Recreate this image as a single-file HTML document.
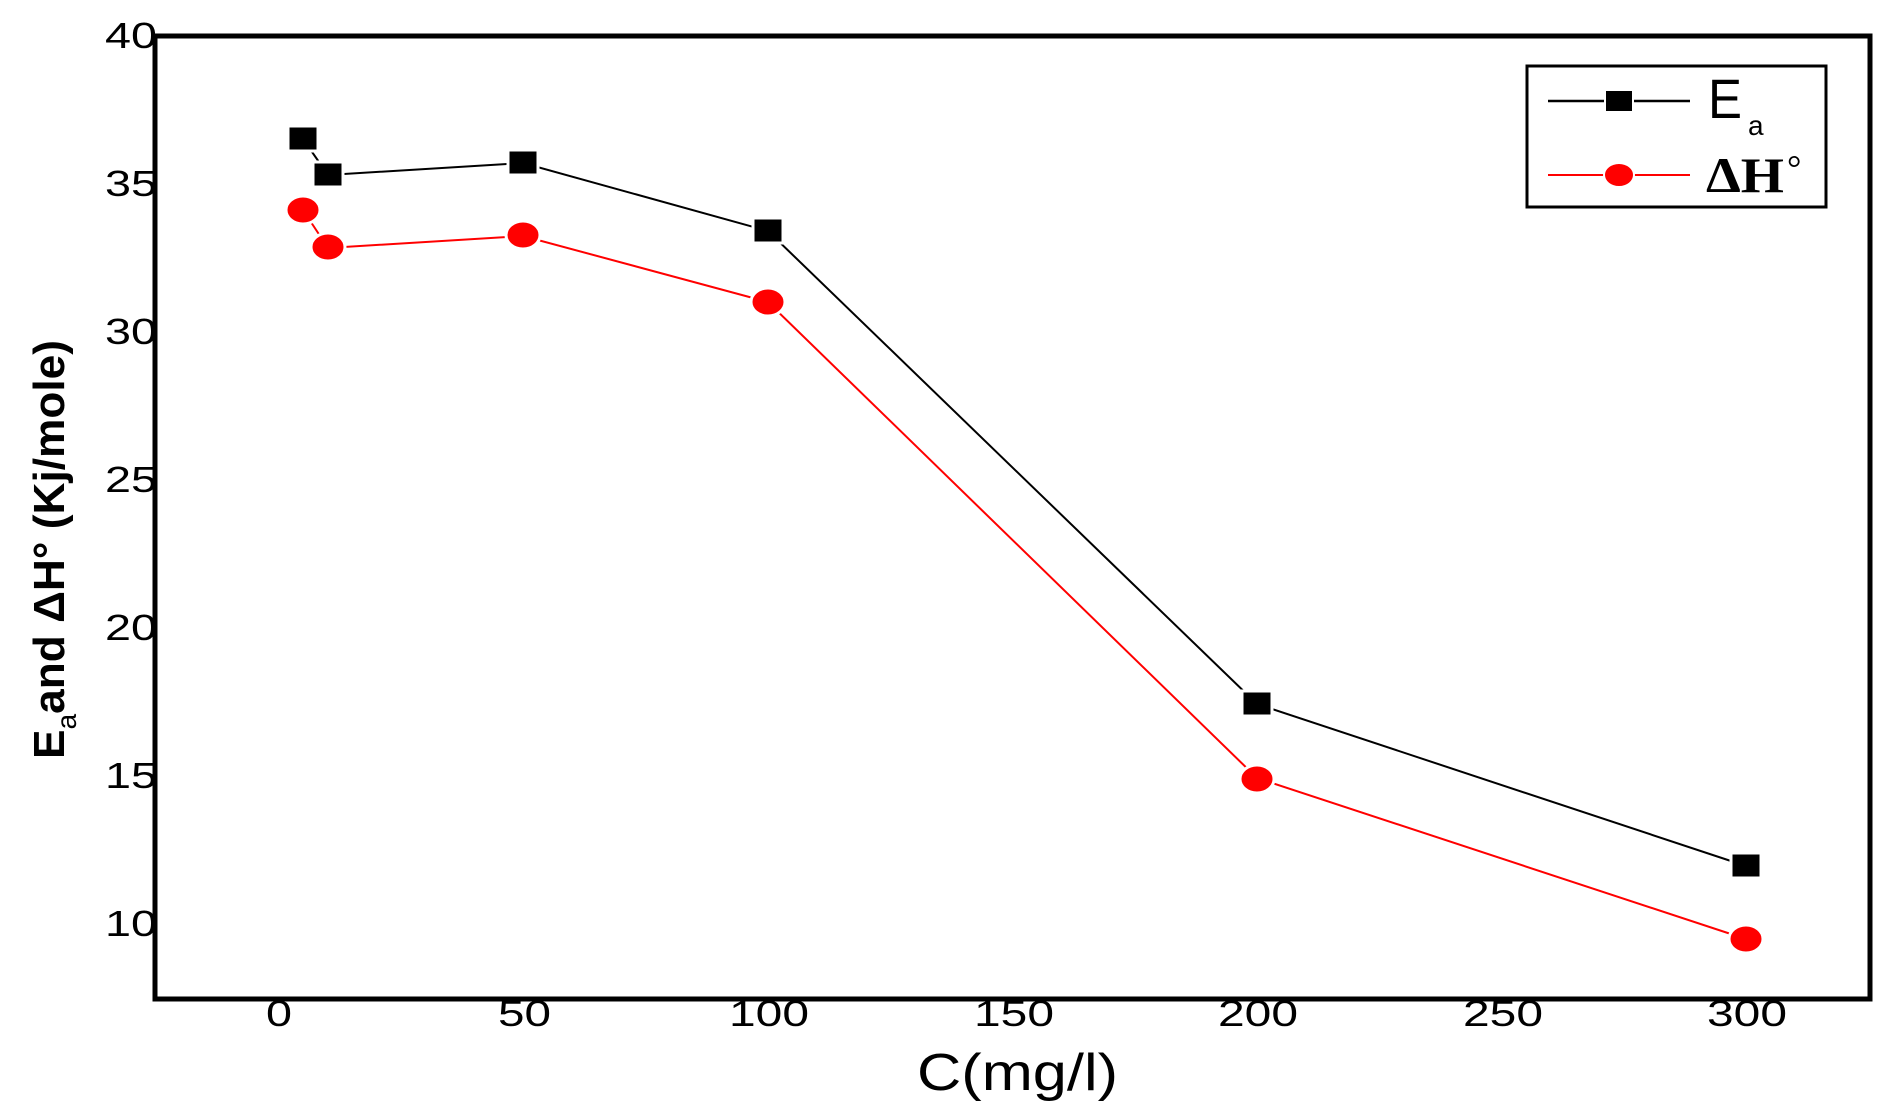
<!DOCTYPE html>
<html><head><meta charset="utf-8"><style>
html,body{margin:0;padding:0;background:#fff;width:1895px;height:1117px;overflow:hidden}
</style></head><body>
<svg width="1895" height="1117" viewBox="0 0 1895 1117" xmlns="http://www.w3.org/2000/svg" font-family="Liberation Sans, sans-serif">
<rect width="1895" height="1117" fill="#fff"/>
<rect x="155" y="36" width="1715" height="963" fill="none" stroke="#000" stroke-width="5"/>
<g font-size="36" text-anchor="end" fill="#000">
<text x="157" y="48" textLength="52" lengthAdjust="spacingAndGlyphs">40</text>
<text x="157" y="196" textLength="52" lengthAdjust="spacingAndGlyphs">35</text>
<text x="157" y="344" textLength="52" lengthAdjust="spacingAndGlyphs">30</text>
<text x="157" y="492" textLength="52" lengthAdjust="spacingAndGlyphs">25</text>
<text x="157" y="640" textLength="52" lengthAdjust="spacingAndGlyphs">20</text>
<text x="157" y="788" textLength="52" lengthAdjust="spacingAndGlyphs">15</text>
<text x="157" y="936" textLength="52" lengthAdjust="spacingAndGlyphs">10</text>
</g>
<g font-size="36" fill="#000">
<text x="266" y="1026" textLength="26" lengthAdjust="spacingAndGlyphs">0</text>
<text x="498" y="1026" textLength="53" lengthAdjust="spacingAndGlyphs">50</text>
<text x="729" y="1026" textLength="80" lengthAdjust="spacingAndGlyphs">100</text>
<text x="974" y="1026" textLength="80" lengthAdjust="spacingAndGlyphs">150</text>
<text x="1218" y="1026" textLength="80" lengthAdjust="spacingAndGlyphs">200</text>
<text x="1463" y="1026" textLength="80" lengthAdjust="spacingAndGlyphs">250</text>
<text x="1707" y="1026" textLength="80" lengthAdjust="spacingAndGlyphs">300</text>
</g>
<text x="917" y="1090" font-size="52" textLength="201" lengthAdjust="spacingAndGlyphs">C(mg/l)</text>
<text transform="translate(64,759) rotate(-90)" font-size="44" font-weight="bold" textLength="419" lengthAdjust="spacingAndGlyphs">E<tspan font-size="28" dy="12" font-weight="normal">a</tspan><tspan dy="-12">and ΔH° (Kj/mole)</tspan></text>
<polyline fill="none" stroke="#000" stroke-width="2" points="303,139 328,175 523,163 768,231 1257,704 1746,866"/>
<polyline fill="none" stroke="#f00" stroke-width="2" points="303,210 328,248 523,236 768,302 1257,778 1746,939"/>
<g fill="#000" stroke="#fff" stroke-width="3">
<rect x="288" y="126" width="30" height="25"/>
<rect x="313" y="162" width="30" height="25"/>
<rect x="508" y="150" width="30" height="25"/>
<rect x="753" y="218" width="30" height="25"/>
<rect x="1242" y="691" width="30" height="25"/>
<rect x="1731" y="853" width="30" height="25"/>
</g>
<g fill="#f00" stroke="#fff" stroke-width="3">
<ellipse cx="303" cy="210" rx="17" ry="14"/>
<ellipse cx="328" cy="247" rx="17" ry="14"/>
<ellipse cx="523" cy="235" rx="17" ry="14"/>
<ellipse cx="768" cy="302" rx="17" ry="14"/>
<ellipse cx="1257" cy="779" rx="17" ry="14"/>
<ellipse cx="1746" cy="939" rx="17" ry="14"/>
</g>
<rect x="1527" y="66" width="299" height="141" fill="#fff" stroke="#000" stroke-width="3"/>
<line x1="1548" y1="101" x2="1690" y2="101" stroke="#000" stroke-width="2.5"/>
<rect x="1605" y="90" width="28" height="22" fill="#000" stroke="#fff" stroke-width="2"/>
<text x="1708" y="118" font-size="56" textLength="34" lengthAdjust="spacingAndGlyphs">E</text>
<text x="1748" y="135" font-size="28">a</text>
<line x1="1548" y1="175" x2="1690" y2="175" stroke="#f00" stroke-width="2"/>
<ellipse cx="1619" cy="175" rx="15" ry="12" fill="#f00" stroke="#fff" stroke-width="2"/>
<text x="1706" y="192" font-size="50" font-family="Liberation Serif, serif" font-weight="bold" textLength="78" lengthAdjust="spacingAndGlyphs">ΔH</text>
<text x="1787" y="180" font-size="36" font-family="Liberation Serif, serif">°</text>
</svg>
</body></html>
